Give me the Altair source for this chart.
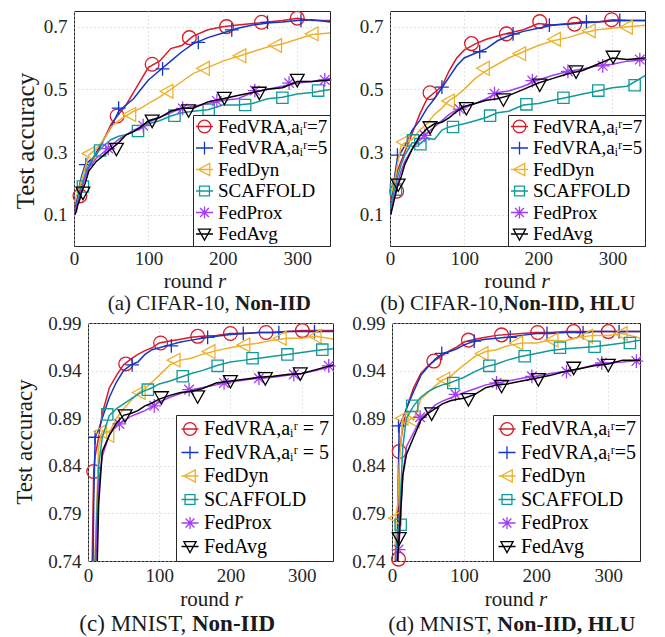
import altair as alt
import pandas as pd

# ---------------- data ----------------
ROUNDS = [1, 3, 5, 8, 10, 15, 20, 30, 40, 50, 60, 70, 80, 90, 100, 115, 130, 145,
          160, 180, 200, 220, 240, 260, 280, 300, 320, 345]

# (a) CIFAR-10, Non-IID
A_VRA7 = [0.12, 0.14, 0.15, 0.16, 0.19, 0.22, 0.25, 0.30, 0.34, 0.39, 0.42, 0.45, 0.49, 0.53, 0.57, 0.59, 0.63, 0.64, 0.67, 0.69, 0.70, 0.705, 0.71, 0.715, 0.72, 0.727, 0.72, 0.72]
A_VRA5 = [0.10, 0.13, 0.16, 0.20, 0.22, 0.26, 0.27, 0.29, 0.34, 0.38, 0.43, 0.45, 0.47, 0.50, 0.53, 0.56, 0.59, 0.62, 0.645, 0.665, 0.68, 0.695, 0.705, 0.712, 0.715, 0.72, 0.722, 0.715]
A_DYN = [0.14, 0.16, 0.17, 0.19, 0.21, 0.25, 0.29, 0.31, 0.34, 0.38, 0.40, 0.415, 0.43, 0.44, 0.455, 0.475, 0.50, 0.525, 0.55, 0.57, 0.59, 0.605, 0.62, 0.635, 0.645, 0.66, 0.675, 0.68]
A_SCAF = [0.10, 0.13, 0.15, 0.18, 0.19, 0.23, 0.26, 0.295, 0.32, 0.34, 0.35, 0.355, 0.365, 0.375, 0.39, 0.40, 0.415, 0.425, 0.43, 0.435, 0.45, 0.45, 0.455, 0.47, 0.475, 0.485, 0.49, 0.50]
A_PROX = [0.10, 0.12, 0.14, 0.16, 0.18, 0.22, 0.25, 0.28, 0.30, 0.32, 0.34, 0.355, 0.37, 0.38, 0.395, 0.41, 0.425, 0.44, 0.445, 0.455, 0.465, 0.47, 0.49, 0.50, 0.51, 0.52, 0.525, 0.535]
A_AVG = [0.10, 0.11, 0.13, 0.15, 0.17, 0.20, 0.24, 0.27, 0.29, 0.31, 0.33, 0.355, 0.365, 0.38, 0.40, 0.41, 0.43, 0.44, 0.44, 0.46, 0.47, 0.48, 0.49, 0.50, 0.505, 0.525, 0.525, 0.53]
A_MARK_R = [[8, 58, 105, 155, 205, 252, 300], [16, 60, 119, 167, 212, 260, 305],
            [20, 75, 125, 174, 223, 271, 320], [12, 35, 86, 135, 181, 230, 280, 328],
            [46, 93, 146, 192, 243, 289, 337], [12, 57, 105, 154, 202, 249, 300]]
A_MARK_V = [[0.16, 0.415, 0.58, 0.665, 0.70, 0.714, 0.727], [0.26, 0.44, 0.565, 0.65, 0.69, 0.714, 0.72],
            [0.295, 0.42, 0.494, 0.567, 0.607, 0.64, 0.677], [0.19, 0.305, 0.367, 0.416, 0.435, 0.45, 0.473, 0.496],
            [0.311, 0.384, 0.439, 0.463, 0.496, 0.52, 0.53], [0.17, 0.31, 0.40, 0.433, 0.473, 0.489, 0.53]]

# (b) CIFAR-10, Non-IID, HLU
B_VRA7 = [0.15, 0.18, 0.20, 0.22, 0.24, 0.27, 0.30, 0.36, 0.42, 0.47, 0.49, 0.51, 0.56, 0.60, 0.625, 0.645, 0.66, 0.67, 0.68, 0.69, 0.71, 0.705, 0.71, 0.715, 0.715, 0.722, 0.72, 0.72]
B_VRA5 = [0.12, 0.16, 0.20, 0.25, 0.28, 0.30, 0.32, 0.37, 0.40, 0.44, 0.47, 0.505, 0.54, 0.575, 0.60, 0.615, 0.63, 0.655, 0.67, 0.685, 0.695, 0.705, 0.708, 0.712, 0.715, 0.718, 0.72, 0.72]
B_DYN = [0.16, 0.18, 0.20, 0.23, 0.26, 0.32, 0.33, 0.34, 0.37, 0.39, 0.42, 0.44, 0.465, 0.48, 0.50, 0.535, 0.56, 0.58, 0.60, 0.62, 0.64, 0.655, 0.665, 0.68, 0.69, 0.695, 0.70, 0.705]
B_SCAF = [0.12, 0.15, 0.17, 0.20, 0.22, 0.26, 0.29, 0.33, 0.325, 0.345, 0.34, 0.37, 0.38, 0.385, 0.39, 0.40, 0.41, 0.425, 0.43, 0.45, 0.455, 0.465, 0.475, 0.485, 0.495, 0.505, 0.51, 0.545]
B_PROX = [0.10, 0.13, 0.15, 0.18, 0.20, 0.24, 0.27, 0.31, 0.34, 0.36, 0.38, 0.40, 0.42, 0.435, 0.44, 0.455, 0.47, 0.49, 0.495, 0.51, 0.53, 0.545, 0.557, 0.565, 0.575, 0.58, 0.59, 0.595]
B_AVG = [0.10, 0.12, 0.14, 0.17, 0.19, 0.22, 0.26, 0.31, 0.35, 0.375, 0.39, 0.395, 0.41, 0.43, 0.445, 0.455, 0.465, 0.47, 0.48, 0.50, 0.52, 0.535, 0.55, 0.56, 0.58, 0.60, 0.595, 0.60]
B_MARK_R = [[9, 54, 110, 157, 202, 249, 299], [10, 70, 121, 166, 215, 265, 310],
            [18, 79, 126, 175, 222, 269, 319], [8, 31, 41, 85, 135, 184, 234, 281, 330],
            [47, 94, 141, 192, 240, 287, 337], [11, 54, 103, 153, 202, 251, 301]]
B_MARK_V = [[0.175, 0.489, 0.646, 0.677, 0.716, 0.708, 0.722], [0.29, 0.507, 0.62, 0.677, 0.705, 0.715, 0.72],
            [0.332, 0.463, 0.567, 0.614, 0.66, 0.687, 0.698], [0.18, 0.337, 0.325, 0.38, 0.416, 0.452, 0.473, 0.496, 0.513],
            [0.353, 0.437, 0.486, 0.528, 0.557, 0.575, 0.595], [0.196, 0.379, 0.44, 0.468, 0.515, 0.557, 0.604]]

# (c) MNIST, Non-IID
C_VRA7 = [0.30, 0.55, 0.70, 0.835, 0.85, 0.87, 0.895, 0.922, 0.935, 0.946, 0.952, 0.957, 0.961, 0.964, 0.969, 0.971, 0.973, 0.975, 0.976, 0.977, 0.979, 0.979, 0.980, 0.980, 0.981, 0.982, 0.982, 0.982]
C_VRA5 = [0.25, 0.45, 0.60, 0.80, 0.87, 0.878, 0.89, 0.912, 0.928, 0.94, 0.946, 0.949, 0.957, 0.962, 0.964, 0.967, 0.970, 0.972, 0.974, 0.976, 0.978, 0.979, 0.980, 0.980, 0.981, 0.981, 0.981, 0.981]
C_DYN = [0.20, 0.35, 0.50, 0.65, 0.75, 0.86, 0.877, 0.875, 0.89, 0.90, 0.908, 0.916, 0.921, 0.928, 0.935, 0.946, 0.951, 0.953, 0.957, 0.961, 0.964, 0.967, 0.969, 0.972, 0.974, 0.974, 0.976, 0.973]
C_SCAF = [0.20, 0.35, 0.50, 0.65, 0.74, 0.84, 0.87, 0.893, 0.90, 0.905, 0.91, 0.915, 0.919, 0.922, 0.926, 0.929, 0.933, 0.937, 0.94, 0.945, 0.949, 0.951, 0.953, 0.955, 0.957, 0.959, 0.961, 0.963]
C_PROX = [0.18, 0.30, 0.45, 0.60, 0.72, 0.82, 0.85, 0.873, 0.882, 0.887, 0.892, 0.895, 0.898, 0.902, 0.907, 0.912, 0.916, 0.92, 0.922, 0.925, 0.928, 0.93, 0.932, 0.933, 0.935, 0.937, 0.94, 0.945]
C_AVG = [0.15, 0.25, 0.40, 0.55, 0.65, 0.80, 0.855, 0.872, 0.885, 0.893, 0.895, 0.898, 0.903, 0.906, 0.910, 0.914, 0.917, 0.918, 0.921, 0.927, 0.929, 0.931, 0.933, 0.934, 0.936, 0.937, 0.941, 0.946]
C_MARK_R = [[8, 53, 102, 154, 200, 250, 301], [10, 62, 117, 168, 218, 268, 318],
            [18, 28, 72, 121, 170, 219, 270, 319], [27, 84, 133, 182, 231, 280, 329],
            [44, 93, 142, 191, 240, 289, 338], [52, 103, 154, 200, 249, 298]]
C_MARK_V = [[0.834, 0.947, 0.969, 0.976, 0.979, 0.980, 0.982], [0.87, 0.946, 0.966, 0.975, 0.979, 0.980, 0.981],
            [0.876, 0.872, 0.917, 0.951, 0.96, 0.967, 0.974, 0.976], [0.894, 0.92, 0.934, 0.945, 0.953, 0.957, 0.962],
            [0.884, 0.903, 0.92, 0.927, 0.932, 0.936, 0.945], [0.893, 0.912, 0.913, 0.929, 0.932, 0.937]]

# (d) MNIST, Non-IID, HLU
D_VRA7 = [0.30, 0.45, 0.60, 0.70, 0.855, 0.88, 0.90, 0.922, 0.937, 0.945, 0.951, 0.956, 0.961, 0.965, 0.970, 0.973, 0.975, 0.977, 0.978, 0.979, 0.980, 0.980, 0.981, 0.981, 0.981, 0.981, 0.981, 0.981]
D_VRA5 = [0.30, 0.45, 0.60, 0.80, 0.882, 0.89, 0.90, 0.918, 0.935, 0.944, 0.952, 0.958, 0.96, 0.963, 0.967, 0.971, 0.973, 0.974, 0.975, 0.977, 0.979, 0.979, 0.980, 0.980, 0.981, 0.981, 0.981, 0.981]
D_DYN = [0.40, 0.65, 0.785, 0.80, 0.84, 0.89, 0.895, 0.888, 0.91, 0.917, 0.924, 0.93, 0.933, 0.94, 0.946, 0.955, 0.96, 0.962, 0.966, 0.969, 0.969, 0.972, 0.971, 0.975, 0.977, 0.977, 0.979, 0.974]
D_SCAF = [0.40, 0.65, 0.75, 0.77, 0.778, 0.86, 0.89, 0.903, 0.912, 0.918, 0.922, 0.925, 0.927, 0.93, 0.933, 0.939, 0.944, 0.947, 0.951, 0.955, 0.958, 0.961, 0.963, 0.964, 0.965, 0.967, 0.969, 0.972]
D_PROX = [0.30, 0.55, 0.70, 0.75, 0.76, 0.83, 0.86, 0.875, 0.89, 0.896, 0.904, 0.908, 0.911, 0.914, 0.917, 0.921, 0.925, 0.927, 0.929, 0.932, 0.934, 0.937, 0.939, 0.942, 0.946, 0.948, 0.949, 0.951]
D_AVG = [0.30, 0.55, 0.70, 0.745, 0.765, 0.83, 0.852, 0.87, 0.888, 0.895, 0.90, 0.905, 0.908, 0.91, 0.911, 0.915, 0.922, 0.925, 0.926, 0.929, 0.932, 0.935, 0.939, 0.942, 0.945, 0.947, 0.951, 0.951]
D_MARK_R = [[9, 10, 58, 106, 152, 202, 252, 300], [9, 69, 114, 164, 215, 265, 315],
            [5, 14, 30, 72, 125, 173, 222, 270, 318], [12, 28, 85, 135, 184, 233, 281, 330],
            [9, 39, 88, 145, 194, 242, 291, 339], [10, 55, 106, 152, 203, 252, 300]]
D_MARK_V = [[0.742, 0.855, 0.95, 0.972, 0.9775, 0.98, 0.981, 0.981], [0.882, 0.958, 0.971, 0.975, 0.979, 0.980, 0.981],
            [0.785, 0.89, 0.887, 0.931, 0.958, 0.969, 0.972, 0.976, 0.979], [0.778, 0.903, 0.927, 0.945, 0.955, 0.964, 0.965, 0.969],
            [0.752, 0.891, 0.915, 0.927, 0.934, 0.939, 0.948, 0.95], [0.764, 0.895, 0.91, 0.924, 0.931, 0.943, 0.946]]

LABELS_TOP = ["FedVRA,aᵢʳ=7", "FedVRA,aᵢʳ=5", "FedDyn", "SCAFFOLD", "FedProx", "FedAvg"]
LABELS_BOTTOM = ["FedVRA,aᵢʳ = 7", "FedVRA,aᵢʳ = 5", "FedDyn", "SCAFFOLD", "FedProx", "FedAvg"]
X_TICKS = [0, 100, 200, 300]
Y_TICKS_TOP = [0.1, 0.3, 0.5, 0.7]
Y_TICKS_BOTTOM = [0.74, 0.79, 0.84, 0.89, 0.94, 0.99]
Y_TITLE = "Test accuracy"

# ---------------- styling ----------------
COLORS = ["#d81b2a", "#1636c2", "#eeb12e", "#13999a", "#a33df2", "#000000"]
FONT = "'Liberation Serif', 'Times New Roman', Times, serif"
XDOM = [0, 344]

PLOT_SHAPES = [
    "M1,0A1,1 0 1 1 -1,0A1,1 0 1 1 1,0Z",
    "M-1,0L1,0M0,-1L0,1",
    "M-1,0L0.85,-1L0.85,1Z",
    "M-0.82,-0.82L0.82,-0.82L0.82,0.82L-0.82,0.82Z",
    "M-1,0L1,0M0,-1L0,1M-0.7,-0.7L0.7,0.7M-0.7,0.7L0.7,-0.7",
    "M-1,-0.8L1,-0.8L0,1Z",
]
LEGEND_SHAPES = [
    "M-1,0L1,0M0.75,0A0.75,0.75 0 1 1 -0.75,0A0.75,0.75 0 1 1 0.75,0Z",
    "M-1,0L1,0M0,-0.75L0,0.75",
    "M-1,0L1,0M-0.72,0L0.62,-0.72L0.62,0.72Z",
    "M-1,0L1,0M-0.58,-0.58L0.58,-0.58L0.58,0.58L-0.58,0.58Z",
    "M-1,0L1,0M0,-0.72L0,0.72M-0.52,-0.52L0.52,0.52M-0.52,0.52L0.52,-0.52",
    "M-1,0L1,0M-0.72,-0.58L0.72,-0.58L0,0.72Z",
]


def txt(t, xv, yv, fs, align, style="normal", weight="normal", angle=0, baseline="alphabetic"):
    return alt.Chart(pd.DataFrame({"t": [t]})).mark_text(
        align=align, baseline=baseline, font=FONT, fontSize=fs, angle=angle,
        fontStyle=style, fontWeight=weight, color="#1a1a1a"
    ).encode(x=alt.value(xv), y=alt.value(yv), text="t:N")


def title_strip(width, height, xc, yc, fs):
    # narrow strip that carries the rotated y-axis title
    return txt(Y_TITLE, xc, yc, fs, "center", angle=270, baseline="middle").properties(
        width=width, height=height, view=alt.ViewBackground(stroke="transparent"))


def make_panel(p):
    w, h = p["w"], p["h"]
    yaxis = alt.Axis(values=p["yticks"], format=p["yfmt"], title=None, labelPadding=7)
    x = alt.X("round:Q", scale=alt.Scale(domain=XDOM, nice=False, zero=False),
              axis=alt.Axis(values=X_TICKS, title=None, labelPadding=p["xlpad"], labelFlush=False))
    y = alt.Y("acc:Q", scale=alt.Scale(domain=p["ydom"], nice=False, zero=False), axis=yaxis)

    layers = []
    for i in range(6):
        df = pd.DataFrame({"round": ROUNDS, "acc": p["lines"][i]})
        layers.append(alt.Chart(df).mark_line(color=COLORS[i], strokeWidth=1.5, clip=True)
                      .encode(x=x, y=y))
        mdf = pd.DataFrame({"round": p["mr"][i], "acc": p["mv"][i]})
        layers.append(alt.Chart(mdf).mark_point(shape=PLOT_SHAPES[i], size=190, filled=False,
                                                color=COLORS[i], strokeWidth=1.3, opacity=1)
                      .encode(x=x, y=y))

    labels = p["labels"]
    leg = alt.Legend(title=None, orient="bottom-right", offset=0, padding=p["lpad"],
                     fillColor="white", strokeColor="#262626", labelFont=FONT,
                     labelFontSize=p["lfs"], labelColor="black", symbolSize=289,
                     symbolStrokeWidth=1.3, rowPadding=p["lrp"], labelOffset=4, labelLimit=400)
    ldf = pd.DataFrame({"series": labels})
    layers.append(alt.Chart(ldf).mark_point(filled=False, opacity=1, strokeWidth=1.3).encode(
        color=alt.Color("series:N", scale=alt.Scale(domain=labels, range=COLORS), legend=leg),
        shape=alt.Shape("series:N", scale=alt.Scale(domain=labels, range=LEGEND_SHAPES), legend=leg),
    ).transform_filter("false"))

    # x-axis title "round r" (italic r)
    rf, rc = p["rfs"], p["rcenter"]
    split = rc + 1.097 * rf
    layers.append(txt("round", split - 0.25 * rf, h + p["ry"], rf, "right"))
    layers.append(txt("r", split, h + p["ry"], rf, "left", style="italic"))
    # caption with bold part
    cf = p["cfs"]
    cs = p["csplit"]
    gap = 0.25 * cf if p["cspace"] else 0
    layers.append(txt(p["cap1"], cs - gap, h + p["cy"], cf, "right"))
    layers.append(txt(p["cap2"], cs, h + p["cy"], cf, "left", weight="bold"))

    return alt.layer(*layers).properties(width=w, height=h)


PA = dict(w=256, h=235, ydom=[0, 0.75], yticks=Y_TICKS_TOP, yfmt=".1f", xlpad=3,
          lines=[A_VRA7, A_VRA5, A_DYN, A_SCAF, A_PROX, A_AVG], mr=A_MARK_R, mv=A_MARK_V,
          labels=LABELS_TOP, lpad=2, lfs=19, lrp=1.5, rfs=21, rcenter=121,
          ry=42, cfs=21, csplit=161, cspace=True, cy=64, cap1="(a) CIFAR-10,", cap2="Non-IID")
PB = dict(w=255, h=235, ydom=[0, 0.75], yticks=Y_TICKS_TOP, yfmt=".1f", xlpad=3,
          lines=[B_VRA7, B_VRA5, B_DYN, B_SCAF, B_PROX, B_AVG], mr=B_MARK_R, mv=B_MARK_V,
          labels=LABELS_TOP, lpad=2, lfs=19, lrp=1.5, rfs=22, rcenter=127,
          ry=42, cfs=21, csplit=113.5, cspace=False, cy=64, cap1="(b) CIFAR-10,", cap2="Non-IID, HLU")
PC = dict(w=245, h=238, ydom=[0.74, 0.99], yticks=Y_TICKS_BOTTOM, yfmt=".2f", xlpad=5,
          lines=[C_VRA7, C_VRA5, C_DYN, C_SCAF, C_PROX, C_AVG], mr=C_MARK_R, mv=C_MARK_V,
          labels=LABELS_BOTTOM, lpad=4, lfs=20, lrp=3.5, rfs=21, rcenter=123.5,
          ry=45, cfs=23, csplit=104, cspace=True, cy=70, cap1="(c) MNIST,", cap2="Non-IID")
PD = dict(w=248, h=238, ydom=[0.74, 0.99], yticks=Y_TICKS_BOTTOM, yfmt=".2f", xlpad=5,
          lines=[D_VRA7, D_VRA5, D_DYN, D_SCAF, D_PROX, D_AVG], mr=D_MARK_R, mv=D_MARK_V,
          labels=LABELS_TOP, lpad=4, lfs=20, lrp=3.5, rfs=21, rcenter=124,
          ry=45, cfs=22, csplit=105.3, cspace=True, cy=70, cap1="(d) MNIST,", cap2="Non-IID, HLU")

IND = dict(color="independent", shape="independent")

left1 = alt.hconcat(title_strip(30, 235, 17, 130, 25), make_panel(PA), spacing=2).resolve_scale(**IND)
row1 = alt.hconcat(left1, make_panel(PB), spacing=23).resolve_scale(**IND)
left2 = alt.hconcat(title_strip(30, 238, 16, 119, 23), make_panel(PC), spacing=7).resolve_scale(**IND)
row2 = alt.hconcat(left2, make_panel(PD), spacing=12).resolve_scale(**IND)

chart = alt.vconcat(row1, row2, spacing=-2).resolve_scale(**IND).properties(
    padding={"left": 0, "top": 0, "right": 0, "bottom": 0}
).configure_view(
    stroke="#262626", strokeWidth=1
).configure_axis(
    labelFont=FONT, labelFontSize=19, labelColor="#262626", ticks=False, domain=False,
    gridColor="#c8c8c8", gridDash=[1, 3], gridWidth=1, gridOpacity=1
)

chart.save("out.html", embed_options={"renderer": "svg", "actions": False})
